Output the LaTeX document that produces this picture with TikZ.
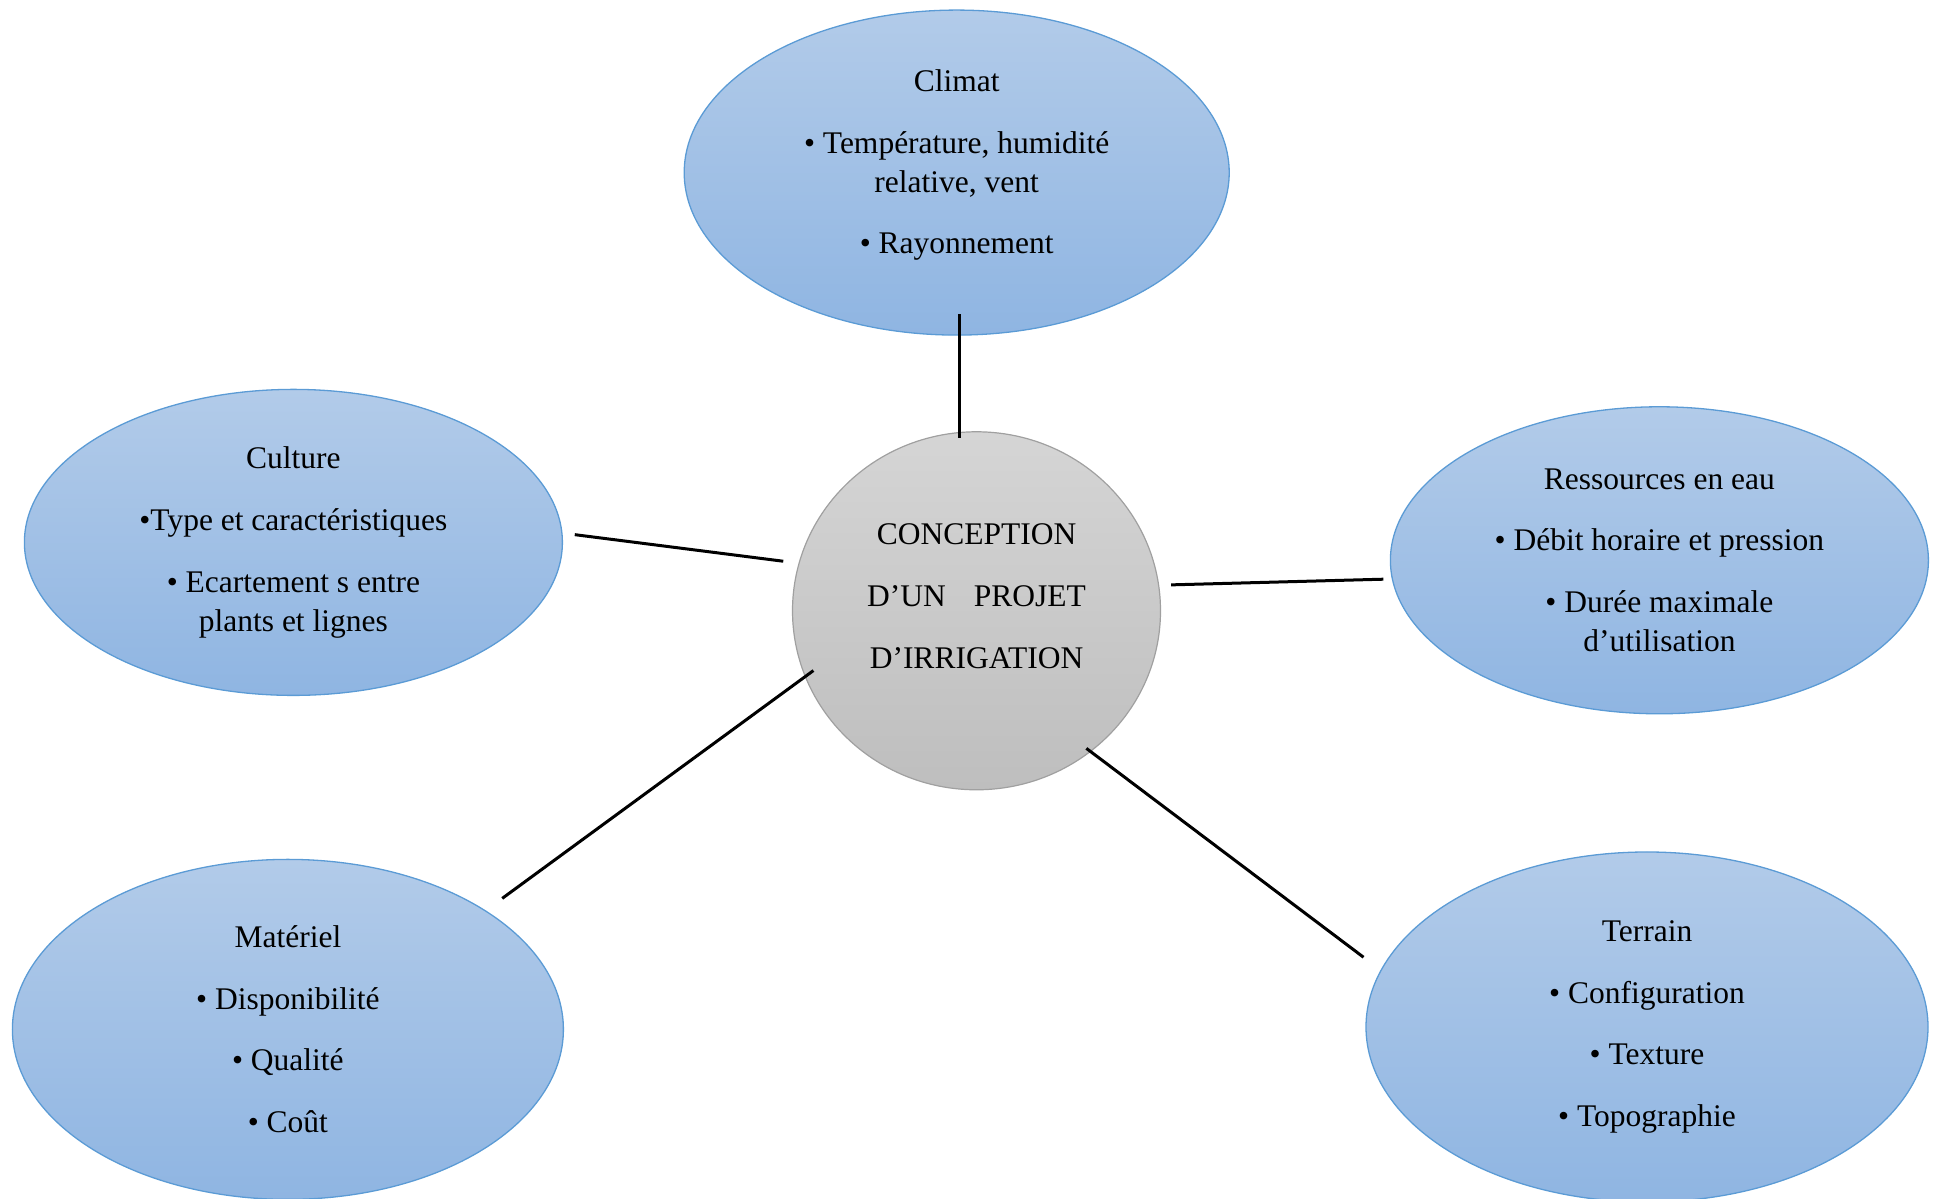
\documentclass[tikz,border=0pt]{standalone}
\usepackage{fontspec}
\setmainfont{Liberation Serif}
\usetikzlibrary{calc,shapes.geometric}
\definecolor{topictop}{RGB}{178,203,233}
\definecolor{topicbot}{RGB}{143,181,226}
\definecolor{topicline}{RGB}{91,155,213}
\definecolor{coretop}{RGB}{213,213,213}
\definecolor{corebot}{RGB}{190,190,190}
\definecolor{coreline}{RGB}{160,160,160}
\tikzstyle{topic}=[
  align=center,
  bottom color=topicbot,
  draw=topicline,
  ellipse,
  font={\fontsize{31.5}{39}\selectfont},
  inner sep=0pt,
  line width=1.3pt,
  outer sep=0pt,
  top color=topictop,
]
\tikzstyle{core}=[
  bottom color=corebot,
  draw=coreline,
  ellipse,
  font={\fontsize{31.5}{39}\selectfont},
  inner sep=0pt,
  line width=1.2pt,
  minimum height=358pt,
  minimum width=368pt,
  outer sep=0pt,
  top color=coretop,
]
\tikzstyle{link}=[
  draw=black,
  line width=3pt,
]
\begin{document}
\begin{tikzpicture}[x=1pt,y=1pt]
      \useasboundingbox (0,0) rectangle (1933,1199);
      \node (projet) [core] at (976.5,588.2)
        {\raisebox{0pt}[\height][\dimexpr\depth+24pt\relax]{%
          \begin{tabular}{@{}c@{}}CONCEPTION\\[22.6pt]
          D’UN\hspace{28pt}PROJET\\[22.6pt]
          D’IRRIGATION\end{tabular}}};
      %%
      \node (climat) [topic, minimum width=545pt, minimum height=325pt] at (956.7,1026.4)
        {Climat\\[22.6pt] • Température, humidité\\ relative, vent\\[22.6pt] • Rayonnement\rule[-22pt]{0pt}{0pt}};
      \node (culture) [topic, minimum width=538pt, minimum height=306pt] at (293.4,656.6)
        {Culture\\[22.6pt] •Type et caractéristiques\\[22.6pt] • Ecartement s entre\\ plants et lignes};
      \node (ressources) [topic, minimum width=538pt, minimum height=307pt] at (1659.4,638.7)
        {Ressources en eau\\[22.6pt] • Débit horaire et pression\\[22.6pt] • Durée maximale\\ d’utilisation};
      \node (materiel) [topic, minimum width=551pt, minimum height=340pt] at (287.9,169.6)
        {Matériel\\[22.6pt] • Disponibilité\\[22.6pt] • Qualité\\[22.6pt] • Coût};
      \node (terrain) [topic, minimum width=562pt, minimum height=350pt] at (1647,172)
        {Terrain\\[22.6pt] • Configuration\\[22.6pt] • Texture\\[22.6pt] • Topographie};
      %%
      \draw [link, shorten <=-21pt, shorten >=-6pt] ($(climat.south)+(2.5,0)$) -- ($(climat.south |- projet.north)+(2.5,0)$);
      \draw [link, shorten <=13pt, shorten >=16pt] (culture.2) -- (projet.165);
      \draw [link, shorten <=12.5pt, shorten >=9pt] (projet.8) -- (ressources.184);
      \draw [link, shorten <=21pt, shorten >=-10pt] (materiel.31) -- (projet.201);
      \draw [link, shorten <=-5pt, shorten >=22pt] (projet.309) -- (terrain.168);
\end{tikzpicture}
\end{document}
